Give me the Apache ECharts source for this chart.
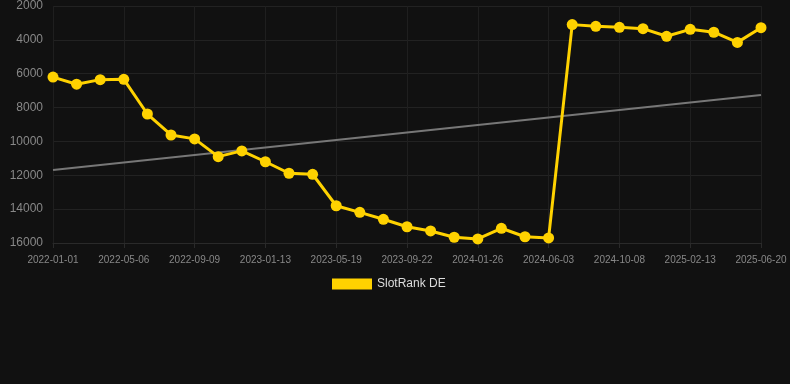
<!DOCTYPE html>
<html>
<head>
<meta charset="utf-8">
<script src="https://cdn.jsdelivr.net/npm/echarts@6/dist/echarts.min.js"></script>
<style>
html,body{margin:0;padding:0;background:#111111;}
#chart{width:790px;height:384px;}
</style>
</head>
<body>
<div id="chart"></div>
<script>
var categories = ['2022-01-01','2022-02-12','2022-03-26','2022-05-06','2022-06-17','2022-07-29','2022-09-09','2022-10-21','2022-12-02','2023-01-13','2023-02-24','2023-04-07','2023-05-19','2023-06-30','2023-08-11','2023-09-22','2023-11-03','2023-12-15','2024-01-26','2024-03-08','2024-04-21','2024-06-03','2024-07-15','2024-08-27','2024-10-08','2024-11-19','2025-01-01','2025-02-13','2025-03-27','2025-05-08','2025-06-20'];
var rankValues = [6200,6620,6350,6330,8380,9620,9850,10900,10560,11200,11880,11940,13800,14190,14600,15040,15290,15660,15760,15130,15630,15700,3100,3200,3260,3340,3790,3380,3550,4150,3280];
var trendStart = 11690;
var trendEnd = 7260;
var yTicks = {min: 2000, max: 16000, interval: 2000};

var chart = echarts.init(document.getElementById('chart'));
chart.setOption({
  backgroundColor: '#111111',
  animation: false,
  grid: {left: 53, right: 29, top: 6, bottom: 141, containLabel: false},
  legend: {
    data: ['SlotRank DE'],
    top: 273,
    left: 327,
    itemWidth: 40,
    itemHeight: 11,
    itemGap: 6,
    textStyle: {color: '#dddddd', fontSize: 12, fontFamily: 'Liberation Sans, Arial, sans-serif'},
    icon: 'rect'
  },
  xAxis: {
    type: 'category',
    data: categories,
    boundaryGap: false,
    axisLine: {lineStyle: {color: '#2a2a2a'}},
    axisTick: {show: true, interval: 2, lineStyle: {color: '#2a2a2a'}},
    axisLabel: {interval: 2, color: '#888888', fontSize: 10, fontFamily: 'Liberation Sans, Arial, sans-serif', margin: 12},
    splitLine: {show: true, interval: 2, lineStyle: {color: '#1f1f1f'}}
  },
  yAxis: {
    type: 'value',
    inverse: true,
    min: yTicks.min,
    max: yTicks.max,
    interval: yTicks.interval,
    axisLine: {show: false},
    axisTick: {show: false},
    axisLabel: {color: '#888888', fontSize: 12, fontFamily: 'Liberation Sans, Arial, sans-serif', margin: 10,
      formatter: function (v) { return String(v); }},
    splitLine: {lineStyle: {color: '#222222'}}
  },
  series: [
    {
      name: 'SlotRank DE',
      type: 'line',
      data: rankValues,
      color: '#ffd200',
      lineStyle: {width: 3, color: '#ffd200'},
      itemStyle: {color: '#ffd200'},
      symbol: 'circle',
      symbolSize: 11,
      z: 3
    },
    {
      name: 'trend',
      type: 'line',
      data: [[0, trendStart], [categories.length - 1, trendEnd]],
      symbol: 'none',
      lineStyle: {width: 2, color: '#777777'},
      color: '#777777',
      silent: true,
      z: 2
    }
  ]
});
</script>
</body>
</html>
